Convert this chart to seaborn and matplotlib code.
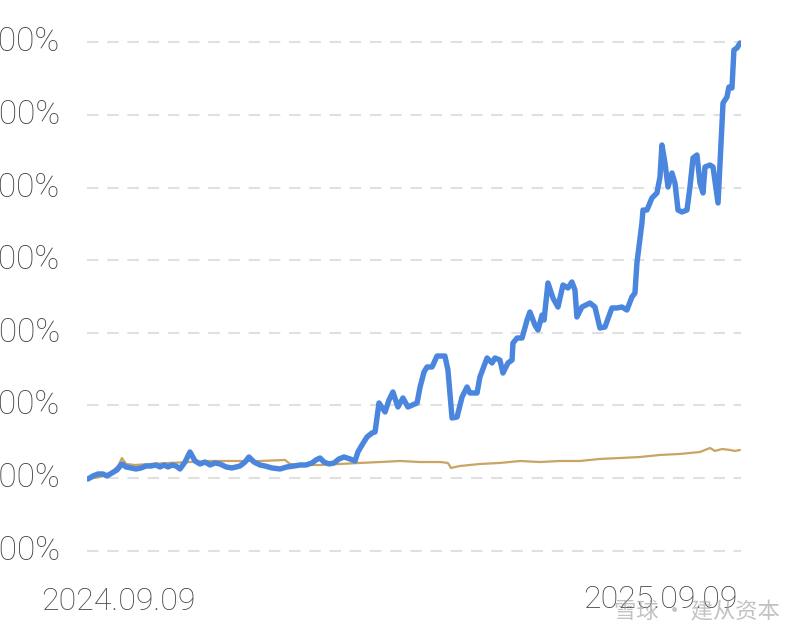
import numpy as np
import pandas as pd
import matplotlib
matplotlib.use("Agg")
import matplotlib.pyplot as plt
import matplotlib.transforms as mtransforms
import seaborn as sns

# ---------------- data ----------------
start_date = "2024-09-09"
end_date = "2025-09-09"

fund_days = [0, 2.8, 5.6, 8.4, 10.6, 13.4, 16.2, 19.0, 21.3, 24.1, 26.9, 29.7, 32.5, 35.3,
             38.1, 40.3, 42.5, 44.8, 47.0, 49.3, 51.5, 54.3, 57.1, 59.9, 62.7, 65.5, 68.3,
             71.1, 73.9, 77.3, 80.6, 85.1, 87.9, 90.1, 92.9, 96.3, 99.1, 103.0, 107.5,
             111.4, 115.3, 118.7, 122.0, 125.4, 127.6, 129.9, 132.1, 134.9, 137.7, 140.5,
             143.3, 146.7, 149.5, 151.1, 153.4, 156.2, 159.0, 160.7, 162.9, 166.3, 168.5,
             170.7, 173.5, 176.3, 179.1, 184.2, 185.9, 188.1, 189.8, 192.6, 195.4, 199.8,
             201.5, 203.8, 206.6, 209.4, 212.2, 213.8, 217.8, 219.4, 223.4, 226.2, 227.8,
             230.6, 232.3, 235.1, 237.4, 237.9, 240.2, 243.0, 245.8, 247.4, 250.2, 251.9,
             254.2, 255.3, 257.5, 260.3, 263.1, 265.9, 268.7, 270.9, 272.6, 273.7, 276.5,
             281.0, 283.8, 286.6, 289.4, 293.3, 296.1, 298.9, 301.7, 304.5, 306.2, 307.3,
             310.1, 310.7, 312.9, 315.7, 318.5, 320.2, 321.3, 323.0, 324.7, 326.9, 328.6,
             330.3, 332.5, 335.3, 337.0, 338.7, 340.9, 342.6, 344.3, 345.4, 348.2, 349.9,
             352.7, 355.5, 357.7, 358.8, 360.5, 361.6, 363.3, 365.0]
fund_ret = [-1.4, 2.8, 5.5, 5.5, 2.8, 6.9, 11.0, 19.3, 15.2, 13.8, 12.4, 13.8, 16.5, 16.5,
            17.9, 15.2, 17.9, 15.2, 17.9, 16.5, 12.4, 22.0, 35.8, 23.4, 19.3, 22.0, 17.9,
            20.7, 19.3, 15.2, 13.8, 16.5, 22.0, 28.9, 22.0, 17.9, 16.5, 13.8, 12.4,
            15.2, 16.5, 17.9, 17.9, 20.7, 24.8, 27.5, 22.0, 19.3, 20.7, 26.2,
            28.9, 26.2, 23.4, 35.8, 45.5, 56.5, 62.0, 63.4, 103.3, 90.9, 107.4,
            118.5, 97.8, 110.2, 97.8, 103.3, 125.3, 146.0, 152.9, 152.9, 168.0, 168.0,
            148.8, 82.6, 84.0, 111.6, 125.3, 117.1, 117.1, 139.1, 165.3, 158.4, 165.3,
            162.5, 144.6, 158.4, 162.5, 185.9, 192.8, 192.8, 217.6, 228.6, 210.7, 203.9,
            224.5, 217.6, 268.6, 247.9, 235.5, 265.8, 261.7, 270.0, 259.0, 221.8, 235.5,
            241.0, 235.5, 206.6, 208.0, 234.2, 234.2, 235.5, 231.4, 249.3, 254.8, 296.1,
            351.2, 369.1, 369.1, 385.7, 392.6, 414.6, 458.7, 433.9, 400.8, 420.1, 406.3,
            369.1, 366.4, 369.1, 400.8, 440.8, 444.9, 406.3, 392.6, 428.4, 431.1, 428.4,
            378.8, 516.5, 524.8, 538.6, 537.2, 589.5, 592.3, 599.2]

bench_days = [0, 6.7, 12.3, 16.8, 19.0, 21.3, 26.3, 34.7, 45.9, 57.1, 68.3, 79.5, 96.3,
              110.3, 113.1, 118.7, 129.9, 141.1, 152.3, 163.5, 174.7, 185.9, 197.1, 201.5,
              203.2, 208.2, 219.4, 230.6, 241.8, 253.0, 264.2, 275.4, 286.6, 297.8, 309.0,
              320.2, 331.4, 342.6, 348.2, 351.0, 354.9, 359.4, 362.2, 365.0]
bench_ret = [-1.4, 1.4, 5.5, 16.5, 27.5, 19.3, 17.9, 19.3, 20.7, 22.0, 23.4, 23.4, 23.4,
             24.8, 19.3, 17.9, 17.9, 19.3, 20.7, 22.0, 23.4, 22.0, 22.0, 20.7,
             13.8, 16.5, 19.3, 20.7, 23.4, 22.0, 23.4, 23.4, 26.2, 27.5, 28.9,
             31.7, 33.1, 35.8, 41.3, 37.2, 39.9, 38.6, 37.2, 38.6]

y_ticks = [-100, 0, 100, 200, 300, 400, 500, 600]
x_tick_labels = ["2024.09.09", "2025.09.09"]
watermark = "雪球 · 建从资本"

# ---------------- build frames ----------------
t0 = pd.Timestamp(start_date)
t1 = pd.Timestamp(end_date)
fund = pd.DataFrame({"date": t0 + pd.to_timedelta(fund_days, unit="D"), "ret": fund_ret})
bench = pd.DataFrame({"date": t0 + pd.to_timedelta(bench_days, unit="D"), "ret": bench_ret})

sns.set_theme(style="white")
plt.rcParams["font.family"] = ["Roboto", "DejaVu Sans"]

fig = plt.figure(figsize=(8.0, 6.37), dpi=100)
ax = fig.add_axes([87 / 800, 82 / 637, 654 / 800, 525 / 637])

sns.lineplot(data=bench, x="date", y="ret", ax=ax, color="#c9a462", linewidth=1.6,
             estimator=None, zorder=3)
sns.lineplot(data=fund, x="date", y="ret", ax=ax, color="#4a85de", linewidth=3.9,
             estimator=None, zorder=4)

pad = pd.Timedelta(days=0.56)
ax.set_xlim(t0 - pad, t1 + pad)
ax.set_ylim(-106.1, 617.1)

for s in ax.spines.values():
    s.set_visible(False)

ax.set_yticks(y_ticks)
ax.set_yticklabels([f"{v:.2f}%" for v in y_ticks])
ax.yaxis.grid(True, color="#e0e0e0", linewidth=1.5, linestyle=(0, (5.5, 4.2)))
ax.xaxis.grid(False)
ax.tick_params(axis="y", length=0, pad=19.5, labelsize=24, labelcolor="#444444")
ax.tick_params(axis="x", length=0, pad=23, labelsize=23, labelcolor="#444444")
ax.set_xlabel("")
ax.set_ylabel("")

ax.set_xticks([t0, t1])
ax.set_xticklabels(x_tick_labels)
xl = ax.get_xticklabels()
xl[0].set_transform(xl[0].get_transform() + mtransforms.ScaledTranslation(0.305, 0, fig.dpi_scale_trans))
xl[1].set_transform(xl[1].get_transform() + mtransforms.ScaledTranslation(-0.80, 0.02, fig.dpi_scale_trans))
for lab in ax.get_yticklabels():
    lab.set_fontweight("light")
    lab.set_verticalalignment("center")
for lab in xl:
    lab.set_fontweight("light")

fig.text(697 / 800, 25 / 637, watermark, ha="center", va="center", fontsize=16,
         color="#9a9a9a", alpha=0.6,
         family=["Noto Sans CJK SC", "DejaVu Sans"])

fig.savefig("out.png", dpi=100)
